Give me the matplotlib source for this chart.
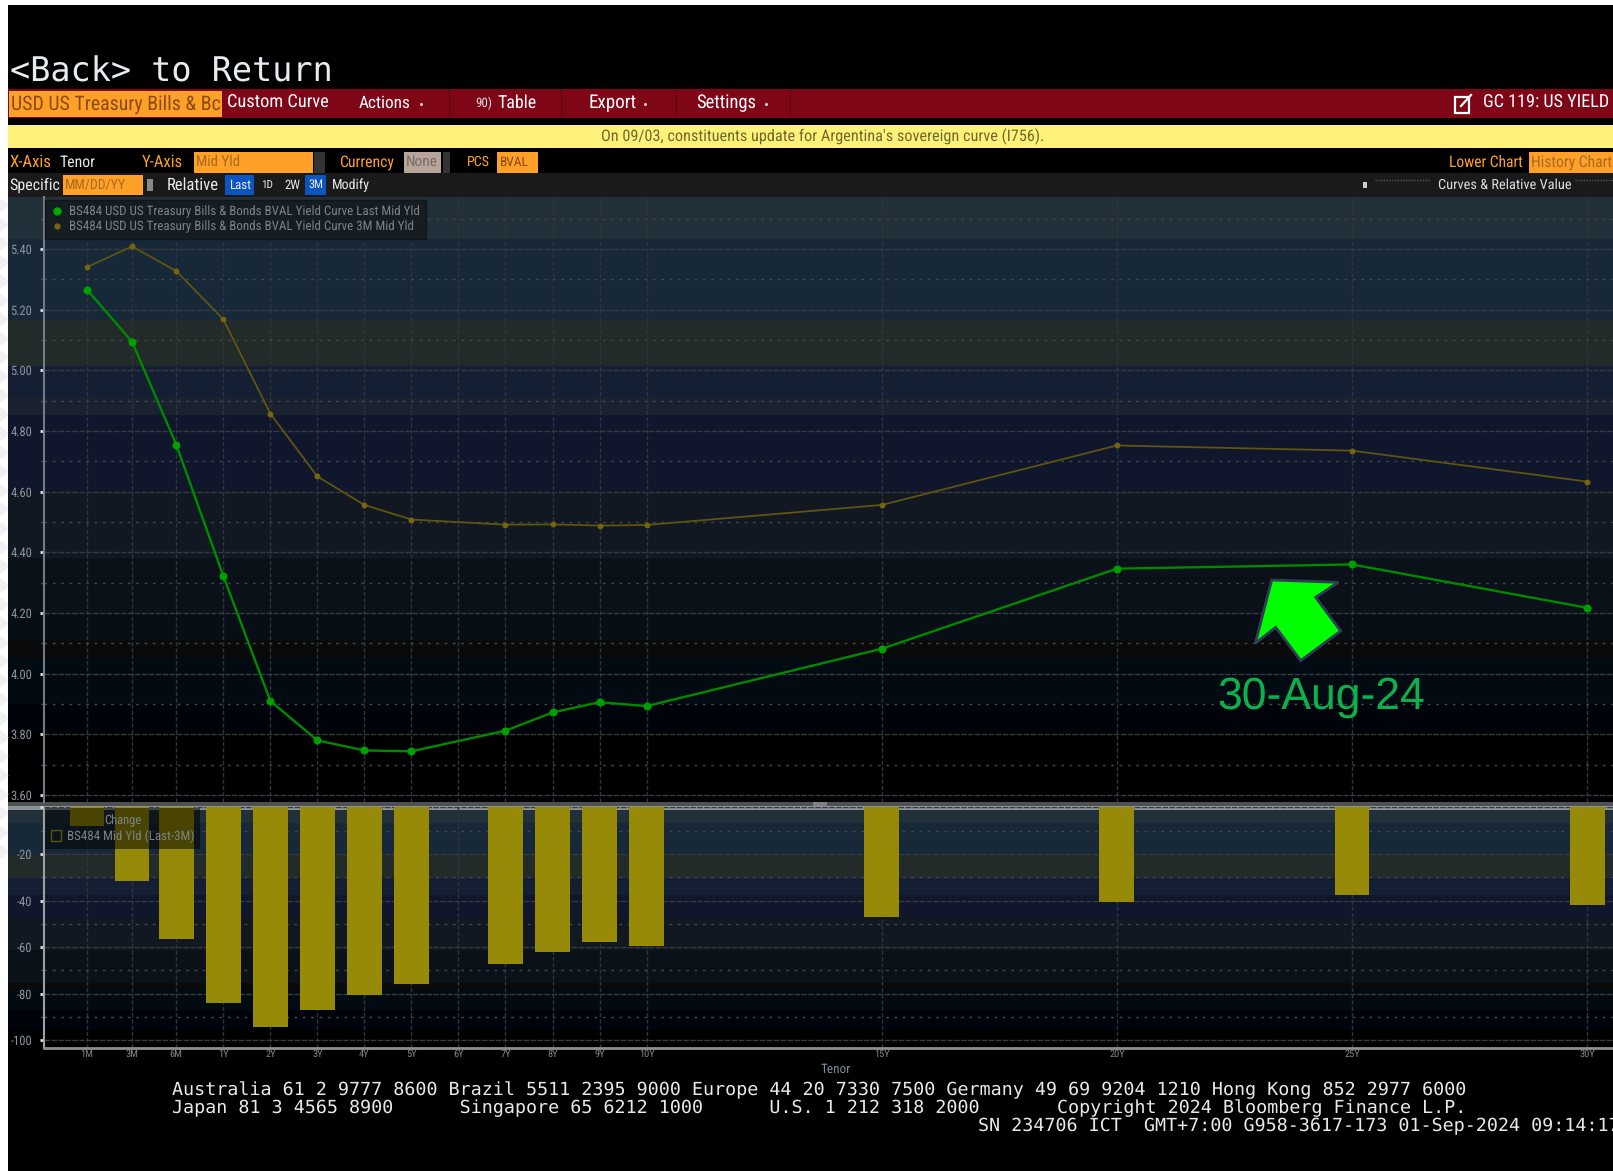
import matplotlib
matplotlib.use('Agg')
import matplotlib.pyplot as plt
from matplotlib.patches import Rectangle, Polygon, Patch
from matplotlib.lines import Line2D

plt.rcParams['axes.unicode_minus'] = False
plt.rcParams['text.hinting'] = 'none'
NARROW = ['Roboto Condensed', 'DejaVu Sans']
MONO = 'DejaVu Sans Mono'

# Curve data
tenors = ['1M', '3M', '6M', '1Y', '2Y', '3Y', '4Y', '5Y', '7Y', '8Y', '9Y', '10Y', '15Y', '20Y', '25Y', '30Y']
tenor_x = [-1.9, -0.94, 0, 1, 2, 3, 4, 5, 7, 8, 9, 10, 15, 20, 25, 30]
last_yld = [5.266, 5.094, 4.755, 4.322, 3.91, 3.78, 3.747, 3.744, 3.812, 3.872, 3.906, 3.893, 4.082, 4.346, 4.36, 4.217]
m3_yld = [5.34, 5.408, 5.327, 5.168, 4.857, 4.65, 4.556, 4.508, 4.491, 4.492, 4.488, 4.49, 4.556, 4.752, 4.735, 4.633]
change = [-8, -31.5, -56.5, -84, -94.5, -87, -80.5, -76, -67.5, -62, -58, -59.5, -47, -40.5, -37.5, -42]

# tick labels, 6Y has no point but still has a label
xtick_x = [-1.9, -0.94, 0, 1, 2, 3, 4, 5, 6, 7, 8, 9, 10, 15, 20, 25, 30]
xtick_labels = ['1M', '3M', '6M', '1Y', '2Y', '3Y', '4Y', '5Y', '6Y', '7Y', '8Y', '9Y', '10Y', '15Y', '20Y', '25Y', '30Y']
ytick_top = [3.6, 3.8, 4.0, 4.2, 4.4, 4.6, 4.8, 5.0, 5.2, 5.4]
ytick_low = [0, -20, -40, -60, -80, -100]

# background stripes of the terminal panel (pixel top, pixel bottom, colour)
bands_top = [(197, 239, '#22303a'), (239, 320, '#172838'), (320, 366, '#232a2a'), (366, 397, '#151f33'),
             (397, 415, '#1a2230'), (415, 490, '#10162b'), (490, 558, '#111822'), (558, 613, '#0a1118'),
             (613, 640, '#080e16'), (640, 658, '#0a0a0a'), (658, 704, '#020a12'), (704, 733, '#00040a')]
bands_low = [(808, 823, '#22303a'), (823, 855, '#172838'), (855, 878, '#232a2a'), (878, 895, '#151f33'),
             (895, 917, '#10162b'), (917, 950, '#111822'), (950, 983, '#0a1118'), (983, 990, '#0a0a0a'),
             (990, 1010, '#020a12'), (1010, 1030, '#00040a')]

W, H = 1613, 1171
fig = plt.figure(figsize=(W / 100, H / 100), dpi=100, facecolor='black')


def pixel_axes(zorder):
    a = fig.add_axes([0, 0, 1, 1], zorder=zorder)
    a.set_xlim(0, W)
    a.set_ylim(H, 0)
    a.axis('off')
    a.patch.set_alpha(0)
    return a


def box_axes(x0, x1, y0, y1):
    return fig.add_axes([x0 / W, 1 - y1 / H, (x1 - x0) / W, (y1 - y0) / H], zorder=2, facecolor='none')


bg = pixel_axes(1)
renderer = fig.canvas.get_renderer()


def rect(x0, y0, x1, y1, color, **kw):
    bg.add_patch(Rectangle((x0, y0), x1 - x0, y1 - y0, facecolor=color, edgecolor='none', **kw))


def fit(s, x0, x1, y, color, family=NARROW, weight='normal', on=None):
    # size the text so that it spans x0..x1
    t = (on or bg).text(x0, y, s, color=color, family=family, weight=weight, fontsize=10, va='center', ha='left')
    t.set_fontsize(10 * (x1 - x0) / t.get_window_extent(renderer).width)
    return t


# white edge of the screenshot
rect(0, 0, W, 5, 'white')
rect(0, 0, 8, H, 'white')
diamond_y = list(range(205, 860, 19))
bg.scatter([1] * len(diamond_y), diamond_y, marker='D', s=50, color='#f1f1f1', linewidths=0)

fit('<Back> to Return', 10, 333, 72, '#e6ecf0', family=MONO)

# red menu bar
rect(8, 89, W, 118, '#7f0617')
rect(9, 91, 222, 117, '#ffa028')
fit('USD US Treasury Bills & Bc', 11, 220, 104, '#8a4a10')
for sx in [449, 561, 676, 790]:
    rect(sx, 90, sx + 1, 117, '#5a0410')
menu_items = [('Custom Curve', 227, 329), ('Actions', 359, 411), ('Table', 497, 536), ('Export', 589, 637), ('Settings', 696, 756)]
for name, x0, x1 in menu_items:
    fit(name, x0, x1, 103, 'white')
fit('90)', 475, 492, 103, '#dddddd')
for dx in [421, 645, 766]:
    bg.scatter([dx], [104], s=5, color='#cccccc', linewidths=0)
bg.add_patch(Rectangle((1455, 97), 14, 16, facecolor='none', edgecolor='white', linewidth=1.6))
bg.plot([1461, 1471], [106, 95], color='white', lw=1.6)
fit('GC 119: US YIELD', 1483, 1609, 103, 'white')

# yellow notice
rect(8, 125, W, 148, '#fff27a')
fit("On 09/03, constituents update for Argentina's sovereign curve (I756).", 601, 1045, 137, '#6d6a2c')

# options rows
rect(8, 173, W, 197, '#1a1a1a')
rect(194, 152, 313, 173, '#ffa028')
rect(314, 152, 325, 173, '#333333')
rect(404, 152, 441, 173, '#b5a59a')
rect(443, 152, 450, 173, '#333333')
rect(497, 152, 538, 173, '#ffa028')
rect(1529, 152, W, 173, '#ffa028')
rect(63, 175, 143, 195, '#ffa028')
rect(225, 175, 254, 195, '#0b55c0')
rect(305, 175, 326, 195, '#0b55c0')
row_labels = [('X-Axis', 9, 51, 162, '#ffa028'), ('Tenor', 60, 96, 162, '#e8e8e8'), ('Y-Axis', 142, 183, 162, '#ffa028'),
              ('Mid Yld', 196, 240, 162, '#a86a20'), ('Currency', 339, 394, 162, '#ffa028'), ('None', 406, 438, 162, '#7a6a60'),
              ('PCS', 467, 490, 162, '#ffa028'), ('BVAL', 500, 529, 162, '#8a4a10'), ('Lower Chart', 1449, 1523, 162, '#ffa028'),
              ('History Chart', 1531, 1612, 162, '#a86a20'), ('Specific', 9, 60, 185, '#e8e8e8'), ('MM/DD/YY', 65, 126, 185, '#a86a20'),
              ('Relative', 167, 219, 185, '#e8e8e8'), ('Last', 229, 251, 185, '#e8e8e8'), ('1D', 261, 273, 185, '#e8e8e8'),
              ('2W', 284, 300, 185, '#e8e8e8'), ('3M', 308, 323, 185, '#e8e8e8'), ('Modify', 332, 370, 185, '#e8e8e8'),
              ('Curves & Relative Value', 1438, 1572, 185, '#d8dde0')]
for s, x0, x1, y, c in row_labels:
    fit(s, x0, x1, y, c)
rect(147, 179, 153, 191, '#888888')
rect(1363, 182, 1367, 188, '#cccccc')
bg.plot([1375, 1430], [180, 180], color='#555555', lw=1, linestyle=(0, (1, 1)))
bg.plot([1575, W], [180, 180], color='#555555', lw=1, linestyle=(0, (1, 1)))

# panel stripes
for y0, y1, c in bands_top + bands_low:
    rect(8, y0, W, y1, c)
rect(8, 802, W, 806, '#4d5154')
rect(8, 806, W, 810, '#8d9296')
rect(813, 802, 827, 806, '#808080')


def px_to_tenor(px):
    return 1 + (px - 223.3) / 47.03


def style_panel(ax, minor_y, ticks, labels):
    ax.set_xlim(px_to_tenor(43.5), px_to_tenor(W))
    ax.set_xticks(xtick_x)
    ax.set_yticks(ticks)
    ax.set_yticklabels(labels, family=NARROW, fontsize=9, color='#8c949c')
    ax.set_yticks(minor_y, minor=True)
    ax.tick_params(axis='y', which='major', length=3, width=2, color='#dddddd', pad=5)
    ax.tick_params(axis='y', which='minor', length=2, width=1, color='#555c62')
    ax.tick_params(axis='x', length=0)
    ax.grid(True, axis='y', which='major', color='#363b40', lw=1, linestyle=(0, (4, 1)))
    ax.grid(True, axis='y', which='minor', color='#42474b', lw=1, linestyle=(0, (2, 4)))
    ax.grid(True, axis='x', which='major', color='#2e353b', lw=1, linestyle=(0, (3, 1.5)))
    ax.set_axisbelow(True)
    for side in ['top', 'right']:
        ax.spines[side].set_visible(False)


# Upper chart
ax = box_axes(43.5, W, 197, 802)
ax.plot(tenor_x, m3_yld, color='#5f5410', lw=1.3, marker='o', ms=3.2, mfc='#75650f', mec='#75650f')
ax.plot(tenor_x, last_yld, color='#008a00', lw=1.7, marker='o', ms=4.8, mfc='#00a000', mec='#00a000')
ax.set_ylim(3.577, 5.571)
style_panel(ax, [v + 0.1 for v in ytick_top], ytick_top, ['%.2f' % v for v in ytick_top])
ax.set_xticklabels([])
ax.spines['bottom'].set_visible(False)
ax.spines['left'].set_color('#6f7b85')
ax.spines['left'].set_linewidth(1.5)

line_handles = [Line2D([], [], ls='none', marker='o', ms=5, color='#00a800'),
                Line2D([], [], ls='none', marker='o', ms=3.5, color='#75650f')]
leg = ax.legend(line_handles,
                ['BS484 USD US Treasury Bills & Bonds BVAL Yield Curve Last Mid Yld',
                 'BS484 USD US Treasury Bills & Bonds BVAL Yield Curve 3M Mid Yld'],
                loc='upper left', bbox_to_anchor=(0.001, 0.995), borderaxespad=0,
                prop={'family': NARROW, 'size': 9.4}, labelcolor='#7c8287', facecolor='#161c20',
                edgecolor='#10151a', framealpha=0.92, fancybox=False, handlelength=1, handletextpad=0.4,
                labelspacing=0.15, borderpad=0.45)

# Lower chart
ax2 = box_axes(43.5, W, 807, 1048)
ax2.bar(tenor_x, change, width=0.74, color='#968a08', zorder=3)
ax2.set_ylim(-103.4, 0.2)
style_panel(ax2, [v - 10 for v in ytick_low[:-1]], ytick_low, [''] + ['%d' % v for v in ytick_low[1:]])
ax2.set_xticklabels(xtick_labels, family=NARROW, fontsize=7.5, color='#858585')
ax2.tick_params(axis='x', pad=1)
ax2.spines['bottom'].set_color('#8e8e8e')
ax2.spines['bottom'].set_linewidth(2)
ax2.spines['left'].set_color('#9aa0a4')
ax2.spines['left'].set_linewidth(1.5)
ax2.set_xlabel('Tenor', family=NARROW, fontsize=9.5, color='#7f8c96', labelpad=3, x=0.505)

leg2 = ax2.legend([Patch(facecolor='none', edgecolor='#5a5210')], ['BS484 Mid Yld (Last-3M)'], title='Change',
                  loc='upper left', bbox_to_anchor=(0.001, 0.995), borderaxespad=0,
                  prop={'family': NARROW, 'size': 9.4}, labelcolor='#7c8287', facecolor='black', edgecolor='none',
                  framealpha=0.5, fancybox=False, handlelength=0.8, handleheight=0.9, handletextpad=0.4, borderpad=0.45,
                  labelspacing=0.25)
leg2.get_title().set_color('#7c8287')
leg2.get_title().set_family(NARROW)
leg2.get_title().set_fontsize(9)
leg2.set_zorder(5)

# Pasted-on annotation
top = pixel_axes(3)
arrow_px = [(1271.7, 580), (1338.3, 582.3), (1315.7, 597.3), (1340.7, 631), (1300.7, 660.7), (1275.7, 627.3), (1255.3, 643.3)]
top.add_patch(Polygon(arrow_px, closed=True, facecolor='#00ff00', edgecolor='#2f3d55', linewidth=2))
fit('30-Aug-24', 1217, 1425, 697, '#0cb04f', family='Liberation Sans', on=top)

# Footer
foot = ['Australia 61 2 9777 8600 Brazil 5511 2395 9000 Europe 44 20 7330 7500 Germany 49 69 9204 1210 Hong Kong 852 2977 6000',
        'Japan 81 3 4565 8900      Singapore 65 6212 1000      U.S. 1 212 318 2000       Copyright 2024 Bloomberg Finance L.P.']
bg.text(172, 1090, foot[0], family=MONO, fontsize=13.24, color='#e8e8e8', va='center')
bg.text(172, 1108.5, foot[1], family=MONO, fontsize=13.24, color='#e8e8e8', va='center')
bg.text(978, 1126, 'SN 234706 ICT  GMT+7:00 G958-3617-173 01-Sep-2024 09:14:17', family=MONO, fontsize=13.24,
        color='#e8e8e8', va='center', clip_on=True)

fig.savefig('out.png', dpi=100, facecolor='black')
